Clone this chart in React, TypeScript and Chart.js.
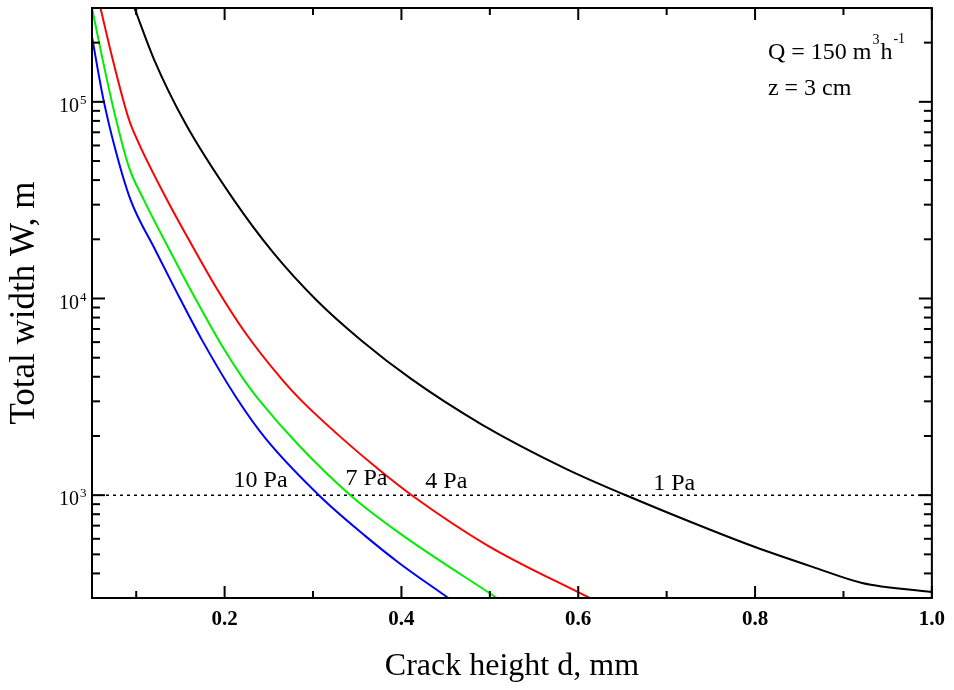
import React, { useEffect, useRef } from 'react';
import { Chart, registerables } from 'chart.js';
Chart.register(...registerables);

const X_MIN = 0.05;
const X_MAX = 1.0;
const Y_MIN = 300;
const Y_MAX = 300000;
const REF_W = 1000;

const xMajorTicks = [0.2, 0.4, 0.6, 0.8, 1.0];
const xMinorTicks = [0.1, 0.3, 0.5, 0.7, 0.9];
const yMajorTicks = [1000, 10000, 100000];
const yMinorTicks = [400, 500, 600, 700, 800, 900, 2000, 3000, 4000, 5000, 6000, 7000, 8000, 9000,
  20000, 30000, 40000, 50000, 60000, 70000, 80000, 90000, 200000];

// 1 Pa (black)
const d1Pa = [0.098, 0.12, 0.1554, 0.21, 0.255, 0.304, 0.355, 0.411, 0.49, 0.585, 0.656, 0.75, 0.8, 0.865, 0.921, 1.0];
const w1Pa = [300000, 165000, 78000, 31900, 17100, 9800, 6100, 3900, 2300, 1370, 990, 665, 545, 432, 358, 322];
// 4 Pa (red)
const d4Pa = [0.0596, 0.0726, 0.0915, 0.1028, 0.1348, 0.1593, 0.1895, 0.2234, 0.2648, 0.2855, 0.3326, 0.374, 0.4136, 0.498, 0.613];
const w4Pa = [300000, 170000, 82000, 61700, 31800, 20000, 11550, 6700, 3880, 3070, 1950, 1355, 985, 553, 300];
// 7 Pa (green)
const d7Pa = [0.05, 0.0613, 0.0746, 0.0915, 0.1085, 0.1367, 0.1593, 0.197, 0.2215, 0.2384, 0.2836, 0.3439, 0.3966, 0.508];
const w7Pa = [300000, 170000, 91000, 47000, 31800, 18000, 11550, 5750, 3880, 3070, 1800, 985, 647, 300];
// 10 Pa (blue)
const d10Pa = [0.05, 0.0625, 0.0765, 0.0935, 0.1217, 0.1443, 0.1743, 0.2139, 0.246, 0.3081, 0.359, 0.3966, 0.453];
const w10Pa = [214000, 105000, 57000, 31800, 17600, 11100, 6160, 3100, 1950, 985, 621, 455, 300];

const curveLabels = ['10 Pa', '7 Pa', '4 Pa', '1 Pa'];
const curveLabelX = [0.2407, 0.3605, 0.4508, 0.7085];
const curveLabelY = [1178, 1219, 1175, 1150];

const FONT = '"Liberation Serif", "Times New Roman", serif';

const toPts = (xs: number[], ys: number[]) => xs.map((x, i) => ({ x, y: ys[i] }));

const framePlugin = {
  id: 'frame',
  afterDatasetsDraw(chart: any) {
    const { ctx, chartArea: a, scales } = chart;
    const x = scales.x;
    const y = scales.y;
    ctx.save();
    ctx.strokeStyle = '#000';
    ctx.lineWidth = 2;
    const line = (x1: number, y1: number, x2: number, y2: number) => {
      ctx.beginPath();
      ctx.moveTo(x1, y1);
      ctx.lineTo(x2, y2);
      ctx.stroke();
    };
    const tx = (v: number, len: number) => {
      const px = x.getPixelForValue(v);
      line(px, a.bottom, px, a.bottom - len);
      line(px, a.top, px, a.top + len);
    };
    const ty = (v: number, len: number) => {
      const py = y.getPixelForValue(v);
      line(a.left, py, a.left + len, py);
      line(a.right, py, a.right - len, py);
    };
    xMajorTicks.forEach(v => tx(v, 12));
    xMinorTicks.forEach(v => tx(v, 7));
    yMajorTicks.forEach(v => ty(v, 13));
    yMinorTicks.forEach(v => ty(v, 8));
    ctx.strokeRect(a.left, a.top, a.right - a.left, a.bottom - a.top);

    ctx.fillStyle = '#000';
    // y tick labels 10^n
    for (const v of yMajorTicks) {
      const py = y.getPixelForValue(v);
      ctx.font = `20px ${FONT}`;
      ctx.textAlign = 'right';
      ctx.textBaseline = 'alphabetic';
      ctx.fillText('10', a.left - 13, py + 10);
      ctx.font = `13px ${FONT}`;
      ctx.textAlign = 'left';
      ctx.fillText(String(Math.round(Math.log10(v))), a.left - 12, py + 2);
    }
    // curve labels
    ctx.font = `24px ${FONT}`;
    ctx.textAlign = 'center';
    ctx.textBaseline = 'middle';
    curveLabels.forEach((t, i) => {
      ctx.fillText(t, x.getPixelForValue(curveLabelX[i]), y.getPixelForValue(curveLabelY[i]));
    });
    // annotation
    ctx.textAlign = 'left';
    ctx.textBaseline = 'alphabetic';
    let ax = a.right - 164;
    const ay1 = a.top + 51;
    const ay2 = a.top + 87;
    const seg = (t: string, size: number, dy: number, gap: number) => {
      ctx.font = `${size}px ${FONT}`;
      ctx.fillText(t, ax, ay1 + dy);
      ax += ctx.measureText(t).width + gap;
    };
    seg('Q = 150 m', 24, 0, 1);
    seg('3', 14, -15, 1);
    seg('h', 24, 0, 1);
    seg('-1', 14, -16, 0);
    ctx.font = `24px ${FONT}`;
    ctx.fillText('z = 3 cm', a.right - 164, ay2);
    ctx.restore();
  },
};

export default function App() {
  const ref = useRef<HTMLCanvasElement>(null);
  useEffect(() => {
    document.body.style.margin = '0';
    const canvas = ref.current!;
    const lineDs = (label: string, xs: number[], ys: number[], color: string) => ({
      label,
      data: toPts(xs, ys),
      borderColor: color,
      backgroundColor: color,
      borderWidth: 2,
      pointRadius: 0,
      cubicInterpolationMode: 'monotone' as const,
      fill: false,
    });
    const chart = new Chart(canvas, {
      type: 'line',
      data: {
        datasets: [
          lineDs('1 Pa', d1Pa, w1Pa, '#000000'),
          lineDs('4 Pa', d4Pa, w4Pa, '#ff0000'),
          lineDs('7 Pa', d7Pa, w7Pa, '#00ee00'),
          lineDs('10 Pa', d10Pa, w10Pa, '#0000ff'),
          {
            label: 'ref',
            data: [{ x: X_MIN, y: REF_W }, { x: X_MAX, y: REF_W }],
            borderColor: '#000',
            borderWidth: 1.5,
            borderDash: [3, 4],
            pointRadius: 0,
            fill: false,
          },
        ],
      },
      options: {
        responsive: false,
        animation: false,
        layout: { padding: { top: 8, right: 19, left: 0, bottom: 0 } },
        plugins: { legend: { display: false }, tooltip: { enabled: false } },
        scales: {
          x: {
            type: 'linear',
            min: X_MIN,
            max: X_MAX,
            afterFit(s: any) { s.height = 92; },
            afterBuildTicks(s: any) { s.ticks = xMajorTicks.map(v => ({ value: v })); },
            grid: { display: false, drawTicks: false },
            border: { display: false },
            ticks: {
              padding: 9,
              color: '#000',
              maxRotation: 0,
              autoSkip: false,
              font: { family: FONT, size: 21, weight: 'bold' },
              callback: (v: any) => Number(v).toFixed(1),
            },
            title: {
              display: true,
              text: 'Crack height d, mm',
              color: '#000',
              font: { family: FONT, size: 32 },
              padding: { top: 0, bottom: 4 },
            },
          },
          y: {
            type: 'logarithmic',
            min: Y_MIN,
            max: Y_MAX,
            afterFit(s: any) { s.width = 92; },
            afterBuildTicks(s: any) { s.ticks = yMajorTicks.map(v => ({ value: v })); },
            grid: { display: false, drawTicks: false },
            border: { display: false },
            ticks: { display: false },
            title: {
              display: true,
              text: 'Total width W, m',
              color: '#000',
              font: { family: FONT, size: 35 },
              padding: { top: 4, bottom: 0 },
            },
          },
        },
      } as any,
      plugins: [framePlugin],
    });
    return () => chart.destroy();
  }, []);
  return <canvas ref={ref} width={954} height={690} style={{ display: 'block' }} />;
}
